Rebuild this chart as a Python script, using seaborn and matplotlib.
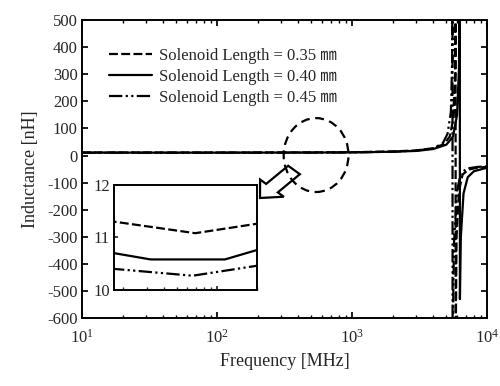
import matplotlib
matplotlib.use("Agg")
import matplotlib.pyplot as plt
import seaborn as sns
import pandas as pd
from matplotlib.patches import Ellipse, FancyArrow

sns.set_theme(style="ticks")
plt.rcParams['font.family'] = ['Liberation Serif', 'Noto Sans CJK JP']
plt.rcParams['mathtext.fontset'] = 'custom'
plt.rcParams['mathtext.rm'] = 'Liberation Serif'
plt.rcParams['axes.unicode_minus'] = False

# values (frequency in MHz, inductance in nH)
f_035 = [10, 17, 69, 200, 500, 1000, 2000, 3000, 4000, 4800, 5300, 5600, 5800, 5850,
         5860, 5950, 6200, 6600, 7300, 8500, 10000]
L_035 = [11.3, 11.3, 11.08, 11.26, 11.6, 12.3, 15, 19, 27, 42, 70, 130, 300, 700,
         -700, -300, -130, -70, -52, -45, -42]

f_040 = [10, 17, 32, 115, 200, 500, 1000, 2000, 3000, 4000, 5000, 5600, 6000, 6200,
         6290, 6300, 6400, 6700, 7200, 8000, 10000]
L_040 = [10.7, 10.7, 10.58, 10.58, 10.76, 11.0, 11.6, 14, 17, 24, 40, 70, 150, 320,
         700, -530, -300, -140, -80, -58, -45]

f_045 = [10, 17, 66, 200, 500, 1000, 2000, 3000, 4000, 4700, 5100, 5400, 5520, 5550,
         5560, 5700, 6000, 6400, 7100, 8500, 10000]
L_045 = [10.4, 10.4, 10.27, 10.46, 10.8, 11.4, 14, 18, 27, 45, 80, 160, 350, 700,
         -700, -320, -130, -65, -48, -42, -40]

labels = ["Solenoid Length = 0.35 ㎜", "Solenoid Length = 0.40 ㎜", "Solenoid Length = 0.45 ㎜"]
styles = [(0, (4, 1.5)), "-", (0, (6, 1.5, 1, 1.5, 1, 1.5))]
series = [(f_035, L_035), (f_040, L_040), (f_045, L_045)]

fig = plt.figure(figsize=(5, 3.86), dpi=100)
ax = fig.add_axes([0.164, 0.176, 0.81, 0.772])

for (f, L), lab, ls in zip(series, labels, styles):
    df = pd.DataFrame({"f": f, "L": L})
    sns.lineplot(data=df, x="f", y="L", ax=ax, color="black", linewidth=1.6,
                 linestyle=ls, sort=False, estimator=None, label=lab)

ax.set_xscale("log")
ax.set_xlim(10, 10000)
ax.set_ylim(-600, 500)
ax.set_yticks(range(-600, 501, 100))
ax.set_xlabel("Frequency [MHz]", fontsize=13, labelpad=4)
ax.set_ylabel("Inductance [nH]", fontsize=13, labelpad=6)
ax.tick_params(which="both", direction="in", top=True, right=True, labelsize=12,
               color="black")
ax.tick_params(which="major", length=4, pad=3)
ax.tick_params(axis="x", which="major", pad=8)
ax.tick_params(which="minor", length=2)
for s in ax.spines.values():
    s.set_linewidth(1.4)
    s.set_color("black")

leg = ax.legend(loc="upper left", bbox_to_anchor=(0.05, 0.93), frameon=False,
                fontsize=12, handlelength=2.6, handletextpad=0.4,
                labelspacing=0.3, borderaxespad=0)

# dashed circle marking the zoomed region
ax.add_patch(Ellipse((0.578, 0.547), 0.16, 0.248, transform=ax.transAxes,
                     fill=False, edgecolor="black", linestyle=(0, (4, 2.5)),
                     linewidth=1.6))
# hollow arrow pointing to the inset
fig.patches.append(FancyArrow(294 / 500, 1 - 170 / 386, -34 / 500, -28 / 386,
                              width=0.032, head_width=0.065, head_length=0.035,
                              transform=fig.transFigure, fill=False,
                              edgecolor="black", linewidth=1.6,
                              length_includes_head=True))

# inset
ins = fig.add_axes([0.228, 0.249, 0.286, 0.272])
for (f, L), ls in zip(series, styles):
    df = pd.DataFrame({"f": f, "L": L})
    sns.lineplot(data=df, x="f", y="L", ax=ins, color="black", linewidth=1.6,
                 linestyle=ls, sort=False, estimator=None, legend=False)
ins.set_xscale("log")
ins.set_xlim(17, 200)
ins.set_ylim(10, 12)
ins.set_yticks([10, 11, 12])
ins.set_xticklabels([], minor=True)
ins.set_xticklabels([])
ins.set_xlabel("")
ins.set_ylabel("")
ins.tick_params(which="both", direction="in", labelsize=12, top=False, right=False)
ins.tick_params(which="major", length=3, pad=3)
ins.tick_params(which="minor", length=2)
for s in ins.spines.values():
    s.set_linewidth(1.4)
    s.set_color("black")

fig.savefig("out.png", dpi=100)
